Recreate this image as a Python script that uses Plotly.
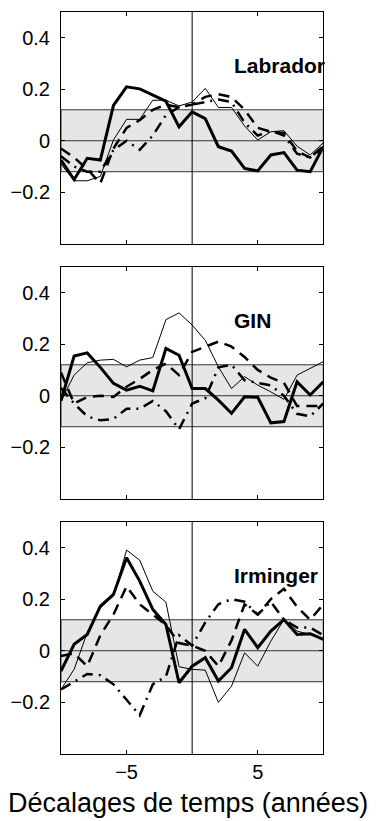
import plotly.graph_objects as go

lags = list(range(-10, 11))

# thick solid, thin solid, thick dashed, thick dash-dot
lab_thick = [-0.075, -0.15, -0.068, -0.075, 0.137, 0.209, 0.201, 0.178, 0.153, 0.054, 0.112,
             0.086, -0.023, -0.04, -0.107, -0.117, -0.055, -0.046, -0.114, -0.12, -0.023]
lab_thin = [-0.09, -0.155, -0.155, -0.138, 0.003, 0.083, 0.083, 0.157, 0.157, 0.135, 0.15,
            0.203, 0.129, 0.129, 0.057, 0.003, 0.035, 0.039, -0.021, -0.055, -0.008]
lab_dash = [-0.03, -0.065, -0.11, -0.165, -0.03, 0.05, 0.08, 0.12, 0.14, 0.13, 0.14,
            0.17, 0.18, 0.17, 0.12, 0.05, 0.035, 0.03, -0.04, -0.065, -0.03]
lab_dashdot = [-0.06, -0.1, -0.12, -0.12, -0.036, 0.0, -0.035, 0.02, 0.1, 0.13, 0.14,
               0.15, 0.16, 0.15, 0.07, 0.02, 0.04, 0.02, -0.05, -0.065, -0.02]

gin_thick = [-0.02, 0.154, 0.166, 0.11, 0.048, 0.022, 0.037, 0.019, 0.183, 0.157, 0.028,
             0.028, -0.017, -0.068, -0.004, -0.006, -0.105, -0.1, 0.054, 0.003, 0.054]
gin_thin = [-0.02, 0.08, 0.128, 0.138, 0.141, 0.112, 0.138, 0.148, 0.295, 0.321, 0.274,
            0.215, 0.112, 0.028, 0.074, 0.041, 0.015, -0.014, 0.08, 0.106, 0.132]
gin_dash = [0.09, -0.03, -0.005, 0.0, -0.005, 0.035, 0.065, 0.1, 0.125, 0.08, 0.17,
            0.19, 0.21, 0.19, 0.15, 0.1, 0.07, 0.05, -0.04, -0.04, -0.04]
gin_dashdot = [0.03, -0.03, -0.08, -0.095, -0.09, -0.05, -0.05, -0.02, -0.06, -0.13, -0.03,
               -0.01, 0.11, 0.12, 0.06, 0.05, 0.04, 0.0, -0.07, -0.08, -0.03]

irm_thick = [-0.079, 0.025, 0.063, 0.173, 0.218, 0.36, 0.27, 0.16, 0.102, -0.124, -0.06,
             -0.027, -0.117, -0.066, 0.083, 0.012, 0.076, 0.121, 0.063, 0.066, 0.044]
irm_thin = [-0.15, -0.072, 0.07, 0.166, 0.212, 0.39, 0.351, 0.231, 0.188, -0.062, -0.072,
            -0.075, -0.2, -0.137, -0.008, -0.06, 0.037, 0.121, 0.076, 0.063, 0.044]
irm_dash = [-0.02, -0.01, -0.06, 0.06, 0.14, 0.25, 0.18, 0.14, 0.1, 0.03, 0.02,
            0.0, -0.06, 0.04, 0.18, 0.14, 0.2, 0.24, 0.17, 0.12, 0.18]
irm_dashdot = [-0.15, -0.12, -0.09, -0.095, -0.13, -0.19, -0.25, -0.13, -0.1, 0.06, 0.02,
               0.11, 0.18, 0.2, 0.19, 0.14, 0.19, 0.12, 0.09, 0.09, 0.06]

panels = [
    ('Labrador', lab_thick, lab_thin, lab_dash, lab_dashdot),
    ('GIN', gin_thick, gin_thin, gin_dash, gin_dashdot),
    ('Irminger', irm_thick, irm_thin, irm_dash, irm_dashdot),
]

band = 0.12
ytickvals = [-0.2, 0, 0.2, 0.4]
yticktext = ['\u22120.2', '0', '0.2', '0.4']

# the page body adds an 8px margin, so the figure is a bit smaller than the window
OFF = 8
W, H = 380 - OFF, 821 - OFF


def px_x(px):
    return (px - OFF) / W


def px_y(py):
    return 1 - (py - OFF) / H


x_dom = [px_x(61), px_x(323.3)]
y_doms = [[px_y(244), px_y(11.7)],
          [px_y(499), px_y(266.7)],
          [px_y(754), px_y(521.7)]]

fig = go.Figure()
shapes = []
annotations = []
font = 'Liberation Sans, Arial, sans-serif'

for i, (name, thick, thin, dash, dashdot) in enumerate(panels):
    n = '' if i == 0 else str(i + 1)
    xa, ya = 'x' + n, 'y' + n
    # shaded band and reference lines
    shapes.append(dict(type='rect', xref=xa, yref=ya, x0=-10, x1=10, y0=-band, y1=band,
                       fillcolor='#e6e6e6', line=dict(color='#333', width=1), layer='below'))
    shapes.append(dict(type='line', xref=xa, yref=ya, x0=-10, x1=10, y0=0, y1=0,
                       line=dict(color='#333', width=1), layer='below'))
    shapes.append(dict(type='line', xref=xa, yref=ya, x0=0, x1=0, y0=-0.4, y1=0.5,
                       line=dict(color='black', width=1), layer='below'))
    fig.add_trace(go.Scatter(x=lags, y=thin, mode='lines', xaxis=xa, yaxis=ya,
                             line=dict(color='black', width=1)))
    fig.add_trace(go.Scatter(x=lags, y=dashdot, mode='lines', xaxis=xa, yaxis=ya,
                             line=dict(color='black', width=2.5, dash='11px,6px,2px,6px')))
    fig.add_trace(go.Scatter(x=lags, y=dash, mode='lines', xaxis=xa, yaxis=ya,
                             line=dict(color='black', width=2.5, dash='11px,7px')))
    fig.add_trace(go.Scatter(x=lags, y=thick, mode='lines', xaxis=xa, yaxis=ya,
                             line=dict(color='black', width=3)))
    annotations.append(dict(x=3, y=0.29, xref=xa, yref=ya, text='<b>%s</b>' % name,
                            showarrow=False, xanchor='left', yanchor='middle',
                            font=dict(size=21, color='black', family=font)))
    axis_common = dict(showline=True, linecolor='black', linewidth=1, mirror='ticks',
                       ticks='inside', ticklen=4, tickcolor='black', showgrid=False,
                       zeroline=False, tickfont=dict(size=20, family=font, color='black'))
    fig.update_layout(**{
        'xaxis' + n: dict(domain=x_dom, range=[-10, 10], anchor=ya, tickvals=[-5, 5],
                          ticktext=['\u22125', '5'], showticklabels=(i == 2),
                          **axis_common),
        'yaxis' + n: dict(domain=y_doms[i], range=[-0.4, 0.5], anchor=xa,
                          tickvals=ytickvals, ticktext=yticktext, ticklabelstandoff=6,
                          **axis_common),
    })

annotations.append(dict(x=px_x(188), y=px_y(803), xref='paper', yref='paper',
                        text='Décalages de temps (années)', showarrow=False,
                        xanchor='center', yanchor='middle',
                        font=dict(size=27, color='black', family=font)))

fig.update_layout(
    width=W, height=H,
    margin=dict(l=0, r=0, t=0, b=0),
    paper_bgcolor='white', plot_bgcolor='white',
    showlegend=False,
    shapes=shapes,
    annotations=annotations,
    font=dict(family=font, size=20, color='black'),
)

fig.write_html('out.html')
